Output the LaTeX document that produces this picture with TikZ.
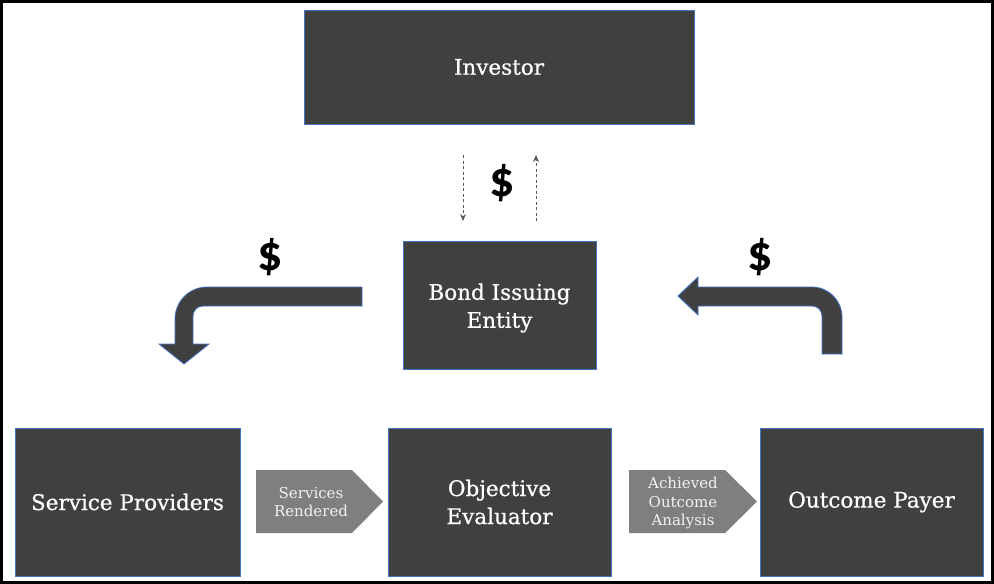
\documentclass[tikz,border=0pt]{standalone}
\usepackage{fontspec}
\setmainfont{DejaVu Serif}
\newfontfamily\boxfont{DejaVu Serif}[FakeBold=0.6]
\newfontfamily\dollarfont{Carlito}
\usetikzlibrary{arrows.meta}
\definecolor{boxfill}{HTML}{404040}
\definecolor{boxline}{HTML}{4472C4}
\definecolor{chevfill}{HTML}{7F7F7F}
\definecolor{chevtext}{HTML}{F2F2F2}
\definecolor{flowline}{HTML}{595959}
\begin{document}
\begin{tikzpicture}[x=1pt,y=-1pt,
  boxtext/.style={text=white,align=center,inner sep=0pt,
    font=\boxfont\fontsize{21.5}{28}\selectfont},
  darkbox/.style={boxtext,draw=boxline,line width=0.8pt,fill=boxfill},
  chevlabel/.style={text=chevtext,align=center,inner sep=0pt,
    font=\fontsize{15}{18.5}\selectfont},
  bigarrow/.style={draw=boxline,line width=0.8pt,fill=boxfill},
  chevron/.style={fill=chevfill},
  dollar/.style={inner sep=0pt,font=\dollarfont\bfseries\fontsize{50}{50}\selectfont},
  cashflow/.style={flowline,line width=0.9pt,dash pattern=on 3pt off 2.5pt,
    -{Stealth[length=7pt,width=6pt]}}]
  % canvas and outer frame
  \useasboundingbox (0,0) rectangle (994,584);
  \fill[white] (0,0) rectangle (994,584);
  \draw[black,line width=3pt] (1.5,1.5) rectangle (992.5,582.5);

  % parties
  \node[darkbox,minimum width=390,minimum height=114] (investor) at (499,67) {Investor};
  \node[darkbox,minimum width=193,minimum height=128] (issuer) at (499.5,305) {};
  \node[boxtext] (issuertext) at (499.5,308) {Bond Issuing\\Entity};
  \node[darkbox,minimum width=225,minimum height=148] (providers) at (127.5,502) {Service Providers};
  \node[darkbox,minimum width=223,minimum height=148] (evaluator) at (499.5,502) {Objective\\Evaluator};
  \node[darkbox,minimum width=223,minimum height=148] (payer) at (871.5,502) {Outcome Payer};

  % money between investor and issuer
  \coordinate (downtop) at (463,155);
  \coordinate (downbot) at (463,221);
  \coordinate (uptop) at (536,155);
  \coordinate (upbot) at (536,221);
  \draw[cashflow] (downtop) -- (downbot);
  \draw[cashflow] (upbot) -- (uptop);
  \node[dollar] (dtop) at (502,183) {\$};

  % issuer pays the service providers
  \draw[bigarrow] (362,287) -- (207,287) arc[start angle=270,end angle=180,radius=32]
    -- (175,344) -- (159,344) -- (184,364) -- (209,344) -- (193,344) -- (193,316)
    arc[start angle=180,end angle=270,radius=10] -- (362,306) -- cycle;
  \node[dollar] (dleft) at (270,257) {\$};

  % outcome payer pays the issuer
  \draw[bigarrow] (842,354) -- (842,317) arc[start angle=0,end angle=-90,radius=30]
    -- (698,287) -- (698,277) -- (678,296) -- (698,315) -- (698,306) -- (812,306)
    arc[start angle=270,end angle=360,radius=10] -- (822,354) -- cycle;
  \node[dollar] (dright) at (760,257) {\$};

  % hand-offs along the bottom row
  \fill[chevron] (256,470) -- (352,470) -- (383,501.5) -- (352,533) -- (256,533) -- cycle;
  \node[chevlabel] (rendered) at (311,502) {Services\\Rendered};
  \fill[chevron] (629,470) -- (725,470) -- (757,501.5) -- (725,533) -- (629,533) -- cycle;
  \node[chevlabel] (analysis) at (683,503) {Achieved\\Outcome\\Analysis};
\end{tikzpicture}
\end{document}
